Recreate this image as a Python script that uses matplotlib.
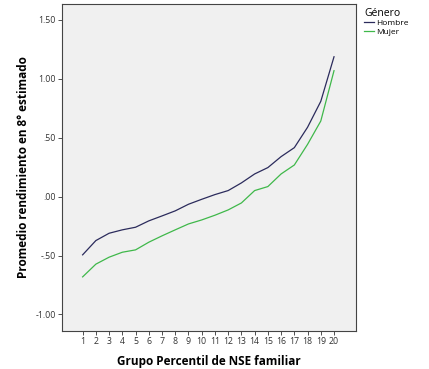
import matplotlib
matplotlib.use("Agg")
import matplotlib.pyplot as plt

groups = list(range(1, 21))
hombre = [-0.494, -0.373, -0.311, -0.282, -0.260, -0.206, -0.164, -0.121, -0.065, -0.023,
          0.017, 0.051, 0.116, 0.192, 0.246, 0.339, 0.415, 0.588, 0.808, 1.186]
mujer = [-0.681, -0.573, -0.514, -0.472, -0.452, -0.387, -0.333, -0.282, -0.232, -0.198,
         -0.158, -0.113, -0.054, 0.051, 0.085, 0.192, 0.268, 0.443, 0.641, 1.068]
yticks = [-1.0, -0.5, 0.0, 0.5, 1.0, 1.5]
ytick_labels = ["-1.00", "-.50", ".00", ".50", "1.00", "1.50"]

plt.rcParams['font.family'] = ['Open Sans', 'DejaVu Sans']
fig = plt.figure(figsize=(4.29, 3.69), dpi=100)
ax = fig.add_axes([0.1445, 0.103, 0.6853, 0.886])
ax.set_facecolor('#f0f0f0')
l1, = ax.plot(groups, hombre, color='#2b2b5c', lw=0.9, label='Hombre')
l2, = ax.plot(groups, mujer, color='#3fb84a', lw=0.9, label='Mujer')
ax.set_xlim(-0.56, 21.66)
ax.set_ylim(-1.14, 1.633)
ax.set_xticks(groups)
ax.set_xticklabels([str(g) for g in groups], fontsize=6.3, color='#333333')
ax.set_yticks(yticks)
ax.set_yticklabels(ytick_labels, fontsize=6.3, color='#333333')
ax.tick_params(length=3, width=0.6, colors='#333333', pad=1.5)
for s in ax.spines.values():
    s.set_color('#444444')
    s.set_linewidth(0.8)
ax.set_xlabel('Grupo Percentil de NSE familiar', fontsize=8.5, fontweight='bold', labelpad=6)
ax.set_ylabel('Promedio rendimiento en 8° estimado', fontsize=8.5, fontweight='bold', labelpad=4)
leg = fig.legend(handles=[l1, l2], title='Género', loc='upper left',
                 bbox_to_anchor=(0.835, 0.995), frameon=False, fontsize=6,
                 title_fontsize=7.5, handlelength=1.2, handletextpad=0.2,
                 labelspacing=0.1, borderpad=0.2)
leg._legend_box.align = 'left'
fig.savefig('out.png', dpi=100, facecolor='white')
